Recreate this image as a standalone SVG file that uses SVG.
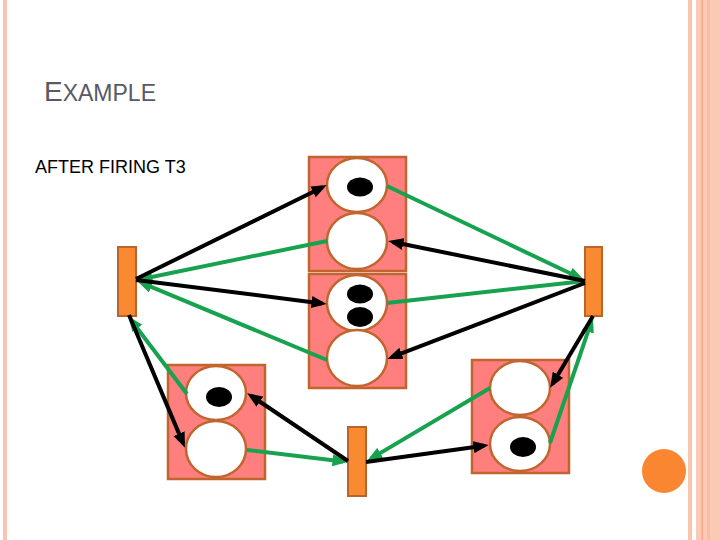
<svg xmlns="http://www.w3.org/2000/svg" width="720" height="540" viewBox="0 0 720 540">
<style>
.box{fill:#ff7f7f;stroke:#c0652e;stroke-width:2.5}
.pl{fill:#ffffff;stroke:#c0652e;stroke-width:2.5}
.tok{fill:#000000}
.tr{fill:#f98a32;stroke:#b8642a;stroke-width:2}
.k{stroke:#000000;stroke-width:4;fill:none;marker-end:url(#ak)}
.g{stroke:#17a24f;stroke-width:4;fill:none;marker-end:url(#ag)}
.gn{stroke:#17a24f;stroke-width:4;fill:none}
</style>
<defs>
<marker id="ak" viewBox="0 0 10 8" refX="6.9" refY="4" markerWidth="3.8" markerHeight="3.1" orient="auto"><path d="M0,0 L10,4 L0,8 z" fill="#000000"/></marker>
<marker id="ag" viewBox="0 0 10 8" refX="6.9" refY="4" markerWidth="3.8" markerHeight="3.1" orient="auto"><path d="M0,0 L10,4 L0,8 z" fill="#17a24f"/></marker>
</defs>
<rect width="720" height="540" fill="#ffffff"/>
<g id="border">
<rect x="3" y="0" width="4" height="540" fill="#f9c4b0"/>
<rect x="688" y="0" width="4" height="540" fill="#f9c4b0"/>
<rect x="696" y="0" width="24" height="540" fill="#fbcab6"/>
<rect x="701.5" y="0" width="1.5" height="540" fill="#f2a88e"/>
<rect x="707" y="0" width="3" height="540" fill="#f8bda6"/>
<circle cx="664" cy="471" r="22" fill="#fa8632"/>
</g>
<g id="title">
<text x="44" y="101" font-family="Liberation Sans, Arial, sans-serif" fill="#595966"><tspan font-size="28">E</tspan><tspan font-size="23">XAMPLE</tspan></text>
<text x="35" y="173" font-family="Liberation Sans, Arial, sans-serif" font-size="18" fill="#000000">AFTER FIRING T3</text>
</g>
<g id="P1">
<rect class="box" x="309" y="157" width="97" height="114"/>
<ellipse class="pl" cx="357" cy="185" rx="30" ry="27"/>
<ellipse class="tok" cx="360" cy="187" rx="13" ry="9.5"/>
<ellipse class="pl" cx="357" cy="241" rx="30" ry="28"/>
</g>
<g id="P2">
<rect class="box" x="309" y="274" width="97" height="114"/>
<ellipse class="pl" cx="357" cy="303" rx="30" ry="28"/>
<ellipse class="tok" cx="360" cy="294" rx="13" ry="9.5"/>
<ellipse class="tok" cx="360" cy="317" rx="13" ry="10"/>
<ellipse class="pl" cx="357" cy="358" rx="30" ry="28"/>
</g>
<g id="P3">
<rect class="box" x="168" y="365" width="97" height="114"/>
<ellipse class="pl" cx="216" cy="393" rx="30" ry="27"/>
<ellipse class="tok" cx="219" cy="397" rx="13" ry="10"/>
<ellipse class="pl" cx="216" cy="449" rx="30" ry="28"/>
</g>
<g id="P4">
<rect class="box" x="472" y="360" width="97" height="113"/>
<ellipse class="pl" cx="520" cy="388" rx="30" ry="27"/>
<ellipse class="pl" cx="520" cy="444" rx="30" ry="27"/>
<ellipse class="tok" cx="523" cy="447" rx="13" ry="10"/>
</g>
<g id="T1"><rect class="tr" x="118" y="247" width="18" height="69"/></g>
<g id="T2"><rect class="tr" x="585" y="247" width="17" height="69"/></g>
<g id="T3"><rect class="tr" x="348" y="427" width="18" height="69"/></g>
<g id="connectors">
<line class="gn" x1="387" y1="303" x2="585" y2="281"/>
<line class="g" x1="327" y1="241" x2="141.9" y2="279"/>
<line class="g" x1="327" y1="360" x2="141.6" y2="282.9"/>
<line class="g" x1="387" y1="186" x2="579.5" y2="277.8"/>
<line class="g" x1="550" y1="443" x2="591.4" y2="321.7"/>
<line class="g" x1="490" y1="388" x2="371.3" y2="458.4"/>
<line class="g" x1="247" y1="450" x2="343" y2="461.4"/>
<line class="g" x1="187" y1="394" x2="131" y2="320"/>
<line class="k" x1="136" y1="279" x2="322.5" y2="187.2"/>
<line class="k" x1="136" y1="280" x2="322" y2="303.4"/>
<line class="k" x1="585" y1="281" x2="392.9" y2="242"/>
<line class="k" x1="585" y1="283" x2="391.7" y2="357.2"/>
<line class="k" x1="593" y1="316" x2="552.6" y2="383.7"/>
<line class="k" x1="366" y1="462" x2="484" y2="445.7"/>
<line class="k" x1="348" y1="461" x2="251.1" y2="395.8"/>
<line class="k" x1="129" y1="315" x2="183.1" y2="443.4"/>
</g>
</svg>
